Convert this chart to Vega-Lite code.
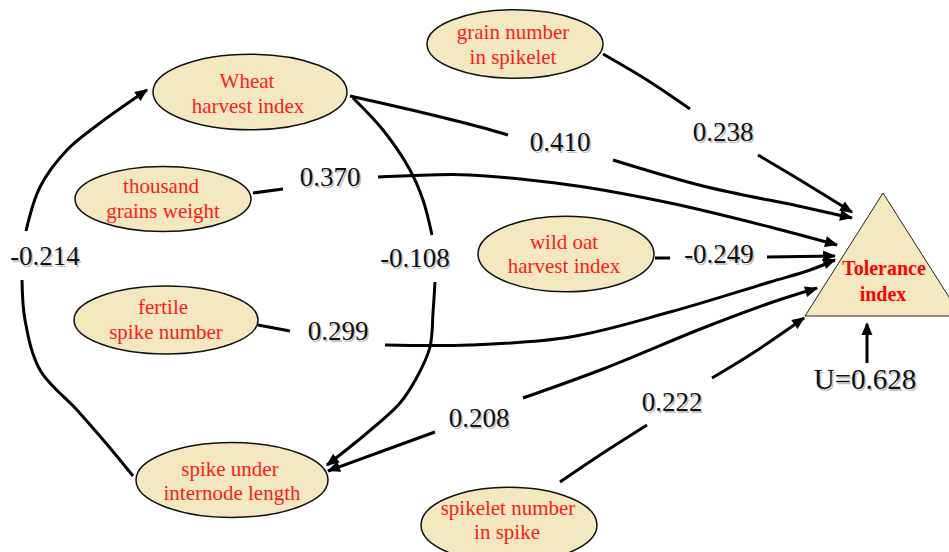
{
  "$schema": "https://vega.github.io/schema/vega-lite/v6.json",
  "width": 949,
  "height": 552,
  "padding": 0,
  "autosize": {"type": "none"},
  "background": "white",
  "config": {"view": {"stroke": null}},
  "datasets": {
    "paths": [
      {"s":"A1","o":1,"x":133,"y":476},{"s":"A1","o":2,"x":105,"y":442},{"s":"A1","o":3,"x":77,"y":410},{"s":"A1","o":4,"x":40,"y":370},{"s":"A1","o":5,"x":25,"y":320},{"s":"A1","o":6,"x":22,"y":280},
      {"s":"A2","o":1,"x":26,"y":231},{"s":"A2","o":2,"x":40,"y":187},{"s":"A2","o":3,"x":67,"y":150},{"s":"A2","o":4,"x":100,"y":123},{"s":"A2","o":5,"x":147,"y":90},
      {"s":"B1","o":1,"x":353,"y":98},{"s":"B1","o":2,"x":383,"y":130},{"s":"B1","o":3,"x":410,"y":170},{"s":"B1","o":4,"x":423,"y":200},{"s":"B1","o":5,"x":432,"y":235},
      {"s":"B2","o":1,"x":435,"y":282},{"s":"B2","o":2,"x":433,"y":313},{"s":"B2","o":3,"x":430,"y":347},{"s":"B2","o":4,"x":417,"y":377},{"s":"B2","o":5,"x":400,"y":403},{"s":"B2","o":6,"x":367,"y":433},{"s":"B2","o":7,"x":327,"y":465},
      {"s":"C1","o":1,"x":350,"y":96},{"s":"C1","o":2,"x":420,"y":112},{"s":"C1","o":3,"x":480,"y":127},{"s":"C1","o":4,"x":508,"y":135},
      {"s":"C2","o":1,"x":613,"y":160},{"s":"C2","o":2,"x":703,"y":186},{"s":"C2","o":3,"x":803,"y":207},{"s":"C2","o":4,"x":852,"y":218},
      {"s":"D1","o":1,"x":603,"y":54},{"s":"D1","o":2,"x":647,"y":80},{"s":"D1","o":3,"x":690,"y":109},
      {"s":"D2","o":1,"x":758,"y":155},{"s":"D2","o":2,"x":800,"y":180},{"s":"D2","o":3,"x":852,"y":212},
      {"s":"E1","o":1,"x":253,"y":193},{"s":"E1","o":2,"x":283,"y":189},
      {"s":"E2","o":1,"x":378,"y":177},{"s":"E2","o":2,"x":430,"y":175},{"s":"E2","o":3,"x":470,"y":175},{"s":"E2","o":4,"x":570,"y":185},{"s":"E2","o":5,"x":670,"y":203},{"s":"E2","o":6,"x":770,"y":227},{"s":"E2","o":7,"x":837,"y":245},
      {"s":"F1","o":1,"x":655,"y":258},{"s":"F1","o":2,"x":670,"y":258},
      {"s":"F2","o":1,"x":767,"y":257},{"s":"F2","o":2,"x":835,"y":256},
      {"s":"G1","o":1,"x":258,"y":325},{"s":"G1","o":2,"x":290,"y":331},
      {"s":"G2","o":1,"x":385,"y":345},{"s":"G2","o":2,"x":470,"y":345},{"s":"G2","o":3,"x":570,"y":337},{"s":"G2","o":4,"x":670,"y":312},{"s":"G2","o":5,"x":770,"y":282},{"s":"G2","o":6,"x":810,"y":270},{"s":"G2","o":7,"x":835,"y":260},
      {"s":"H1","o":1,"x":328,"y":471},{"s":"H1","o":2,"x":380,"y":452},{"s":"H1","o":3,"x":435,"y":432},
      {"s":"H2","o":1,"x":523,"y":398},{"s":"H2","o":2,"x":603,"y":369},{"s":"H2","o":3,"x":703,"y":328},{"s":"H2","o":4,"x":770,"y":303},{"s":"H2","o":5,"x":817,"y":288},
      {"s":"I1","o":1,"x":560,"y":482},{"s":"I1","o":2,"x":600,"y":455},{"s":"I1","o":3,"x":647,"y":425},
      {"s":"I2","o":1,"x":712,"y":378},{"s":"I2","o":2,"x":753,"y":353},{"s":"I2","o":3,"x":804,"y":318},
      {"s":"U","o":1,"x":867,"y":363},{"s":"U","o":2,"x":867,"y":324}
    ],
    "heads": [
      {"x":148,"y":89,"a":55},
      {"x":326,"y":466,"a":233},
      {"x":853,"y":218,"a":102},
      {"x":853,"y":213,"a":122},
      {"x":838,"y":245,"a":105},
      {"x":836,"y":256,"a":90},
      {"x":836,"y":259,"a":67},
      {"x":818,"y":288,"a":73},
      {"x":327,"y":471,"a":250},
      {"x":805,"y":317,"a":55},
      {"x":867,"y":322,"a":0}
    ],
    "nodes": [
      {"x":250,"y":92,"rx":97,"k":"m"},
      {"x":515,"y":44,"rx":88,"k":"m"},
      {"x":163,"y":199,"rx":88,"k":"n"},
      {"x":566,"y":254,"rx":88,"k":"w"},
      {"x":166,"y":320,"rx":92,"k":"n"},
      {"x":232,"y":480,"rx":96,"k":"m"},
      {"x":509,"y":525,"rx":88,"k":"w"}
    ],
    "tri": [{"x":883,"y":316}],
    "names": [
      {"x":247,"y":82,"t":"Wheat"},{"x":248,"y":107,"t":"harvest index"},
      {"x":513,"y":33,"t":"grain number"},{"x":513,"y":58,"t":"in spikelet"},
      {"x":161,"y":187,"t":"thousand"},{"x":163,"y":212,"t":"grains weight"},
      {"x":564,"y":243,"t":"wild oat"},{"x":564,"y":267,"t":"harvest index"},
      {"x":163,"y":308,"t":"fertile"},{"x":166,"y":333,"t":"spike number"},
      {"x":230,"y":470,"t":"spike under"},{"x":232,"y":494,"t":"internode length"},
      {"x":508,"y":509,"t":"spikelet number"},{"x":507,"y":533,"t":"in spike"}
    ],
    "coefs": [
      {"x":45,"y":257,"t":"-0.214","f":27},
      {"x":415,"y":259,"t":"-0.108","f":27},
      {"x":330,"y":178,"t":"0.370","f":27},
      {"x":338,"y":332,"t":"0.299","f":27},
      {"x":560,"y":143,"t":"0.410","f":27},
      {"x":723,"y":133,"t":"0.238","f":27},
      {"x":719,"y":255,"t":"-0.249","f":27},
      {"x":479,"y":419,"t":"0.208","f":27},
      {"x":672,"y":403,"t":"0.222","f":27},
      {"x":865,"y":380,"t":"U=0.628","f":29}
    ],
    "target": [{"x":884,"y":269,"t":"Tolerance"},{"x":883,"y":295,"t":"index"}]
  },
  "encoding": {
    "x": {"field":"x","type":"quantitative","scale":{"domain":[0,949],"nice":false,"zero":false},"axis":null},
    "y": {"field":"y","type":"quantitative","scale":{"domain":[0,552],"nice":false,"zero":false,"reverse":true},"axis":null}
  },
  "layer": [
    {
      "data": {"name":"tri"},
      "mark": {"type":"point","filled":true,"opacity":1,"shape":"M0,-1 L-0.634,0 L0.634,0 Z","size":60516,"fill":"#F3E8C0","stroke":"#222222","strokeWidth":1}
    },
    {
      "data": {"name":"paths"},
      "mark": {"type":"line","interpolate":"catmull-rom","stroke":"#000000","strokeWidth":3,"strokeCap":"butt"},
      "encoding": {
        "detail": {"field":"s","type":"nominal"},
        "order": {"field":"o","type":"quantitative"}
      }
    },
    {
      "data": {"name":"nodes"},
      "mark": {"type":"point","filled":true,"opacity":1,"fill":"#F3E8C0","stroke":"#111111","strokeWidth":1.5},
      "encoding": {
        "shape": {"field":"k","type":"nominal","legend":null,"scale":{"domain":["n","m","w"],"range":["M-1,0 A1,0.37 0 1,1 1,0 A1,0.37 0 1,1 -1,0 Z","M-1,0 A1,0.39 0 1,1 1,0 A1,0.39 0 1,1 -1,0 Z","M-1,0 A1,0.43 0 1,1 1,0 A1,0.43 0 1,1 -1,0 Z"]}},
        "size": {"field":"rx","type":"quantitative","legend":null,"scale":{"type":"pow","exponent":2,"domain":[0,100],"range":[0,40000]}}
      }
    },
    {
      "data": {"name":"heads"},
      "mark": {"type":"point","filled":true,"opacity":1,"fill":"#000000","strokeWidth":0,"shape":"M0,0 L-0.42,1 L0.42,1 Z","size":676},
      "encoding": {
        "angle": {"field":"a","type":"quantitative","scale":null}
      }
    },
    {
      "data": {"name":"names"},
      "mark": {"type":"text","font":"'Liberation Serif', 'DejaVu Serif', serif","fontSize":21,"color":"#FF1A1A","baseline":"middle","align":"center"},
      "encoding": {"text": {"field":"t","type":"nominal"}}
    },
    {
      "data": {"name":"coefs"},
      "mark": {"type":"text","font":"'Liberation Serif', 'DejaVu Serif', serif","color":"#9a9a9a","opacity":0.6,"baseline":"middle","align":"center","dx":1.5,"dy":1.5},
      "encoding": {"text": {"field":"t","type":"nominal"}, "size": {"field":"f","type":"quantitative","scale":null}}
    },
    {
      "data": {"name":"coefs"},
      "mark": {"type":"text","font":"'Liberation Serif', 'DejaVu Serif', serif","color":"#111111","baseline":"middle","align":"center"},
      "encoding": {"text": {"field":"t","type":"nominal"}, "size": {"field":"f","type":"quantitative","scale":null}}
    },
    {
      "data": {"name":"target"},
      "mark": {"type":"text","font":"'Liberation Serif', 'DejaVu Serif', serif","fontSize":20,"fontWeight":"bold","color":"#FF0000","baseline":"middle","align":"center"},
      "encoding": {"text": {"field":"t","type":"nominal"}}
    }
  ]
}
